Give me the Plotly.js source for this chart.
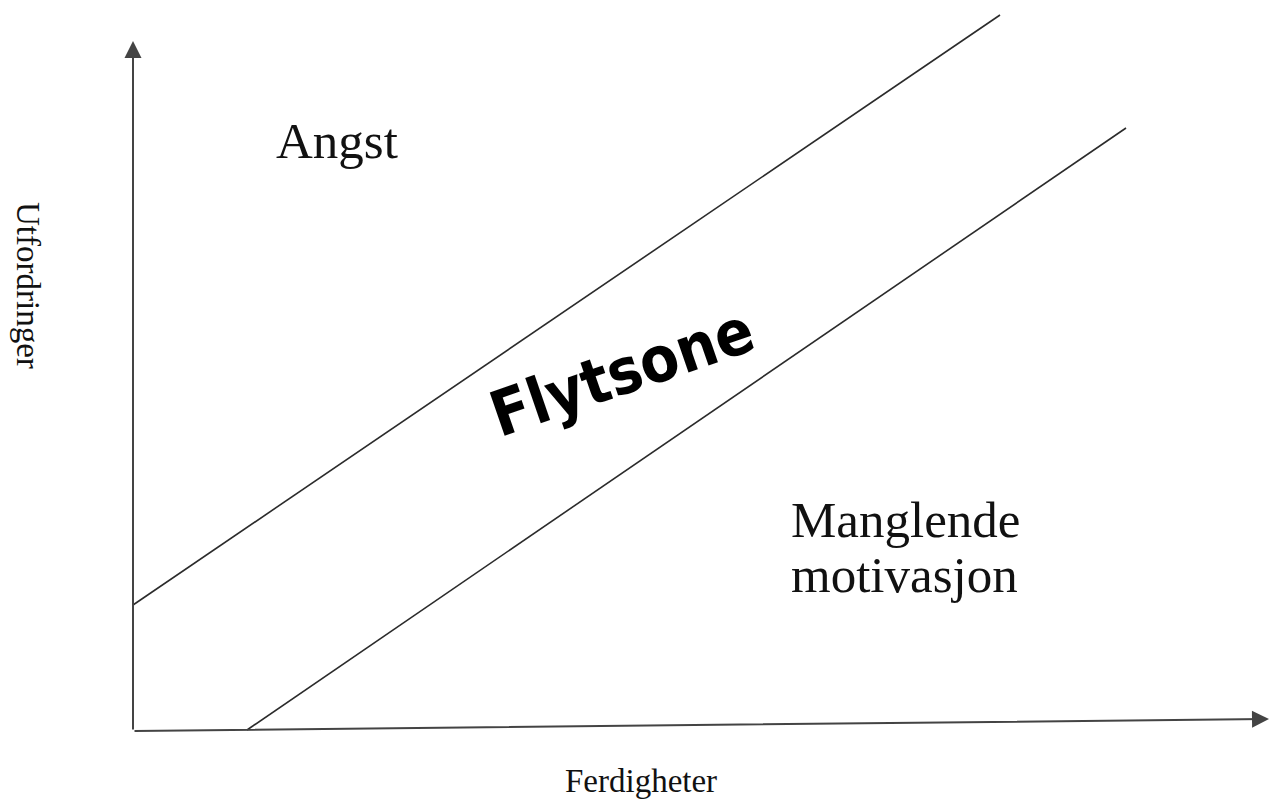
<!DOCTYPE html>
<html>
<head>
<meta charset="utf-8">
<script src="https://cdn.plot.ly/plotly-3.0.1.min.js"></script>
<style>html,body{margin:0;padding:0;background:#fff;}#chart{width:1271px;height:802px;}</style>
</head>
<body>
<div id="chart"></div>
<script>
// Flow-zone diagram (Ferdigheter vs Utfordringer), units: 1 = 100px, origin at axis corner
const upperBoundaryX = [0, 8.67];
const upperBoundaryY = [1.26, 7.16];
const lowerBoundaryX = [1.14, 9.93];
const lowerBoundaryY = [0.01, 6.03];
const xAxisArrowX = [0, 11.36];
const xAxisArrowY = [0, 0.12];
const yAxisArrowX = [0, 0];
const yAxisArrowY = [0, 6.90];
const zoneLabels = ["Angst", "Flytsone", "Manglende", "motivasjon"];
const axisTitles = ["Ferdigheter", "Utfordringer"];

const serif = "Liberation Serif, Times New Roman, serif";
const ink = "#111";

const traces = [
  {x: upperBoundaryX, y: upperBoundaryY, mode: "lines", line: {color: "#2b2b2b", width: 1.6}, hoverinfo: "skip"},
  {x: lowerBoundaryX, y: lowerBoundaryY, mode: "lines", line: {color: "#2b2b2b", width: 1.6}, hoverinfo: "skip"}
];

function arrow(xs, ys) {
  return {x: xs[1], y: ys[1], ax: xs[0], ay: ys[0], xref: "x", yref: "y", axref: "x", ayref: "y",
    text: "", showarrow: true, arrowhead: 2, arrowsize: 1.7, arrowwidth: 2, arrowcolor: "#444", standoff: 0, startstandoff: 0};
}

const annotations = [
  arrow(xAxisArrowX, xAxisArrowY),
  arrow(yAxisArrowX, yAxisArrowY),
  {x: 2.04, y: 5.90, xref: "x", yref: "y", text: zoneLabels[0], showarrow: false,
    font: {family: serif, size: 51, color: ink}, xanchor: "center", yanchor: "middle"},
  {x: 4.89, y: 3.59, xref: "x", yref: "y", text: "<b>" + zoneLabels[1] + "</b>", showarrow: false, textangle: -19,
    font: {family: "DejaVu Sans Condensed, Liberation Sans, sans-serif", size: 63, color: "#000"}, xanchor: "center", yanchor: "middle"},
  {x: 6.56, y: 2.11, xref: "x", yref: "y", text: zoneLabels[2], showarrow: false,
    font: {family: serif, size: 51, color: ink}, xanchor: "left", yanchor: "middle"},
  {x: 6.56, y: 1.56, xref: "x", yref: "y", text: zoneLabels[3], showarrow: false,
    font: {family: serif, size: 51, color: ink}, xanchor: "left", yanchor: "middle"},
  {x: 5.08, y: -0.50, xref: "x", yref: "y", text: axisTitles[0], showarrow: false,
    font: {family: serif, size: 33, color: ink}, xanchor: "center", yanchor: "middle"},
  {x: -1.05, y: 4.46, xref: "x", yref: "y", text: axisTitles[1], showarrow: false, textangle: 90,
    font: {family: serif, size: 33, color: ink}, xanchor: "center", yanchor: "middle"}
];

const layout = {
  width: 1271, height: 802,
  margin: {l: 0, r: 0, t: 0, b: 0, pad: 0},
  paper_bgcolor: "#fff", plot_bgcolor: "#fff",
  showlegend: false,
  xaxis: {range: [-1.33, 11.38], visible: false, fixedrange: true},
  yaxis: {range: [-0.71, 7.31], visible: false, fixedrange: true},
  annotations: annotations
};

Plotly.newPlot("chart", traces, layout, {staticPlot: true, displayModeBar: false});
</script>
</body>
</html>
